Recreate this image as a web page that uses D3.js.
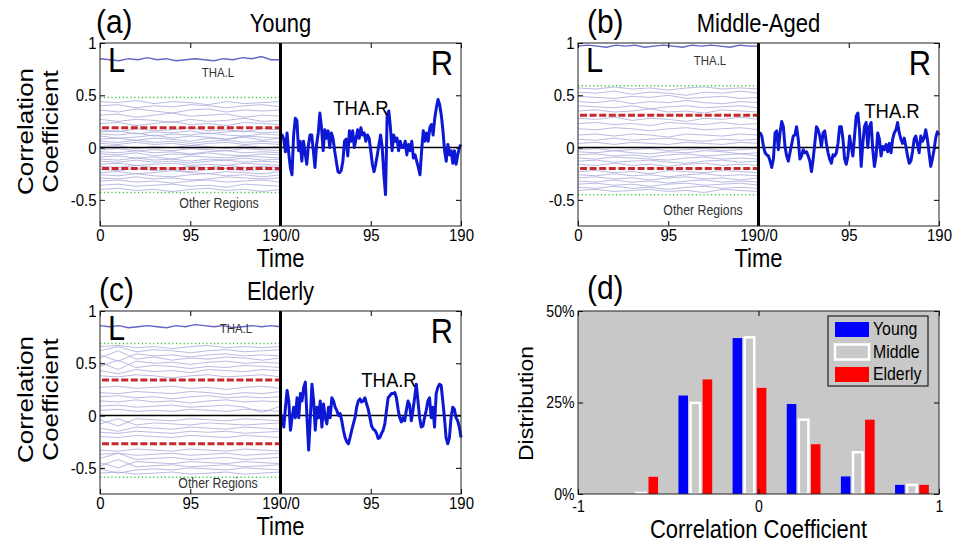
<!DOCTYPE html>
<html>
<head>
<meta charset="utf-8">
<script src="https://cdn.jsdelivr.net/npm/d3@7"></script>
<style>
  body { margin: 0; background: #fff; }
  svg { display: block; }
  text { font-family: "Liberation Sans", Arial, sans-serif; }
</style>
</head>
<body>
<div class="vis"></div>
<script>
// ---- data ----
const timeTicks = [0, 95, 190, 285, 380];
const timeTickLabels = ["0", "95", "190/0", "95", "190"];
const corrTicks = [1, 0.5, 0, -0.5];
const corrTickLabels = ["1", "0.5", "0", "-0.5"];

// THA.R time courses (right half), evenly spaced over 0..190
const youngThaR = [
  0.10,0.12,0.08,-0.04,0.14,-0.05,-0.19,-0.26,0.12,0.28,
  0.26,-0.03,0.06,-0.13,0.06,-0.05,-0.16,0.02,0.12,0.12,
  -0.03,-0.19,0.03,0.14,0.33,0.19,-0.03,0.17,0.09,0.16,
  0.00,0.14,0.09,-0.03,-0.13,-0.23,-0.24,-0.22,-0.13,0.06,
  0.08,-0.08,0.16,0.06,0.16,0.00,0.08,0.17,0.09,0.19,
  0.12,0.14,0.06,0.12,0.09,-0.03,-0.16,-0.23,-0.16,-0.07,
  0.03,0.12,0.00,-0.26,-0.45,0.31,0.35,0.19,-0.03,0.12,
  0.06,0.09,-0.03,0.06,0.00,0.00,0.06,-0.07,0.03,-0.03,
  0.06,-0.10,-0.07,-0.13,-0.19,-0.26,-0.03,0.16,0.06,0.14,
  0.06,0.19,0.22,0.12,0.28,0.38,0.46,0.41,0.31,0.16,
  -0.03,-0.13,0.03,-0.07,-0.03,-0.15,-0.03,-0.16,-0.07,0.00,
  0.03
];
const middleThaR = [
  0.14,0.14,0.11,0.01,-0.05,-0.07,-0.08,-0.13,-0.19,-0.11,
  0.14,0.16,-0.02,0.14,0.25,0.20,0.01,-0.08,-0.13,-0.05,
  0.03,0.11,0.12,0.20,0.08,-0.11,-0.08,-0.02,-0.05,-0.04,
  -0.08,-0.13,-0.23,-0.11,0.04,0.20,0.17,0.11,0.01,0.14,
  0.16,0.04,-0.05,-0.11,-0.15,-0.07,-0.08,-0.05,0.04,0.20,
  0.20,0.08,-0.11,-0.16,-0.08,0.11,0.01,-0.08,0.11,0.30,
  0.33,0.17,-0.18,0.04,0.20,0.24,0.00,0.20,0.24,-0.02,
  -0.18,-0.08,0.14,0.08,-0.08,0.01,-0.02,0.03,-0.04,0.04,
  -0.05,0.08,0.14,0.17,0.24,0.14,0.08,0.04,0.09,0.01,
  -0.08,-0.15,-0.13,-0.04,0.08,0.11,0.03,-0.05,0.11,0.06,
  0.09,0.17,0.08,-0.05,-0.18,-0.11,-0.02,0.09,0.15,0.12
];
const elderlyThaR = [
  0.02,-0.02,-0.11,0.08,0.24,0.14,-0.14,-0.02,0.08,-0.02,
  0.17,-0.02,0.21,0.14,0.27,0.32,-0.02,-0.33,-0.02,0.30,
  0.14,-0.14,0.08,-0.02,0.14,-0.11,0.11,-0.02,-0.08,0.08,
  -0.02,0.17,0.14,0.08,0.05,0.00,0.02,-0.05,-0.14,-0.21,
  -0.25,-0.27,-0.21,-0.14,-0.08,-0.02,0.08,0.14,0.16,0.13,
  0.14,0.17,0.11,0.06,-0.02,-0.10,-0.13,-0.14,-0.17,-0.22,
  -0.21,-0.17,-0.14,-0.08,0.05,0.17,0.19,0.21,0.21,0.22,
  0.17,0.06,-0.02,-0.06,-0.02,-0.05,0.05,0.14,0.10,-0.05,
  0.05,0.17,0.30,0.14,-0.02,-0.11,-0.10,-0.02,0.05,0.14,
  0.17,-0.02,0.08,-0.11,0.21,0.27,0.30,0.29,0.14,-0.02,
  -0.21,-0.27,-0.21,-0.02,0.08,0.06,-0.02,-0.05,-0.11,-0.21
];

// THA.L time courses (left half)
const youngThaL = [0.85,0.84,0.83,0.85,0.84,0.86,0.84,0.85,0.83,0.84,0.85,0.84,0.83,0.85,0.84,0.86,0.85,0.87,0.84,0.84];
const middleThaL = [0.97,0.98,0.97,0.96,0.98,0.97,0.98,0.96,0.97,0.98,0.97,0.96,0.98,0.97,0.98,0.97,0.96,0.98,0.97,0.97];
const elderlyThaL = [0.86,0.85,0.86,0.84,0.85,0.86,0.85,0.84,0.86,0.85,0.87,0.86,0.85,0.86,0.84,0.85,0.86,0.85,0.86,0.85];

// other regions (left half), each sampled at 11 time points
const youngOthers = [
  [0.44,0.43,0.45,0.42,0.44,0.43,0.41,0.44,0.42,0.43,0.44],
  [0.40,0.41,0.38,0.40,0.39,0.41,0.40,0.38,0.40,0.41,0.39],
  [0.36,0.34,0.37,0.35,0.33,0.36,0.37,0.34,0.36,0.35,0.36],
  [0.31,0.32,0.29,0.31,0.33,0.30,0.31,0.32,0.29,0.31,0.30],
  [0.27,0.25,0.27,0.26,0.24,0.27,0.25,0.26,0.28,0.25,0.26],
  [0.23,0.24,0.21,0.23,0.25,0.22,0.23,0.21,0.24,0.23,0.22],
  [0.17,0.15,0.18,0.16,0.17,0.19,0.16,0.17,0.15,0.18,0.17],
  [0.15,0.16,0.13,0.15,0.14,0.16,0.13,0.15,0.16,0.14,0.15],
  [0.13,0.12,0.14,0.11,0.13,0.12,0.14,0.12,0.11,0.13,0.12],
  [0.11,0.09,0.10,0.12,0.09,0.11,0.10,0.08,0.11,0.10,0.09],
  [0.08,0.09,0.07,0.09,0.08,0.06,0.09,0.08,0.10,0.07,0.09],
  [0.06,0.05,0.07,0.05,0.06,0.04,0.06,0.07,0.05,0.06,0.05],
  [0.04,0.03,0.05,0.03,0.04,0.02,0.04,0.05,0.03,0.04,0.03],
  [0.01,0.02,-0.01,0.01,0.00,0.02,0.01,-0.01,0.02,0.00,0.01],
  [-0.02,-0.01,-0.03,-0.02,-0.03,-0.01,-0.02,-0.03,-0.01,-0.02,-0.03],
  [-0.04,-0.05,-0.03,-0.05,-0.04,-0.06,-0.04,-0.03,-0.05,-0.04,-0.05],
  [-0.06,-0.07,-0.05,-0.08,-0.06,-0.07,-0.05,-0.07,-0.08,-0.06,-0.07],
  [-0.09,-0.08,-0.10,-0.09,-0.11,-0.08,-0.09,-0.10,-0.08,-0.09,-0.10],
  [-0.11,-0.12,-0.10,-0.12,-0.11,-0.13,-0.11,-0.12,-0.10,-0.12,-0.11],
  [-0.13,-0.14,-0.12,-0.14,-0.13,-0.15,-0.13,-0.12,-0.14,-0.13,-0.14],
  [-0.16,-0.15,-0.17,-0.16,-0.15,-0.17,-0.16,-0.17,-0.15,-0.16,-0.17],
  [-0.18,-0.19,-0.17,-0.19,-0.20,-0.18,-0.19,-0.17,-0.19,-0.18,-0.19],
  [-0.21,-0.22,-0.20,-0.22,-0.21,-0.23,-0.21,-0.20,-0.22,-0.21,-0.22],
  [-0.24,-0.23,-0.25,-0.24,-0.22,-0.24,-0.25,-0.23,-0.24,-0.25,-0.23],
  [-0.26,-0.27,-0.25,-0.27,-0.28,-0.26,-0.25,-0.27,-0.26,-0.28,-0.26],
  [-0.29,-0.30,-0.28,-0.30,-0.29,-0.31,-0.30,-0.28,-0.29,-0.30,-0.29],
  [-0.32,-0.31,-0.33,-0.32,-0.34,-0.32,-0.31,-0.33,-0.32,-0.31,-0.33],
  [-0.36,-0.35,-0.37,-0.36,-0.35,-0.37,-0.36,-0.38,-0.35,-0.36,-0.37],
  [-0.40,-0.39,-0.41,-0.40,-0.42,-0.40,-0.39,-0.41,-0.40,-0.42,-0.40]
];
const middleOthers = [
  [0.57,0.56,0.58,0.56,0.57,0.55,0.57,0.58,0.56,0.57,0.56],
  [0.53,0.52,0.54,0.51,0.53,0.52,0.50,0.53,0.52,0.54,0.52],
  [0.49,0.48,0.47,0.49,0.48,0.50,0.47,0.48,0.49,0.47,0.48],
  [0.44,0.43,0.45,0.42,0.44,0.43,0.45,0.43,0.42,0.44,0.43],
  [0.40,0.39,0.38,0.40,0.37,0.39,0.40,0.38,0.39,0.40,0.38],
  [0.35,0.36,0.34,0.35,0.37,0.34,0.35,0.33,0.36,0.35,0.34],
  [0.28,0.27,0.29,0.26,0.28,0.27,0.25,0.28,0.27,0.29,0.27],
  [0.23,0.24,0.22,0.23,0.21,0.24,0.23,0.22,0.24,0.22,0.23],
  [0.18,0.17,0.19,0.18,0.16,0.18,0.19,0.17,0.18,0.19,0.17],
  [0.12,0.13,0.11,0.13,0.12,0.10,0.13,0.12,0.11,0.13,0.12],
  [0.08,0.07,0.09,0.07,0.08,0.09,0.07,0.06,0.08,0.07,0.08],
  [0.04,0.05,0.03,0.05,0.04,0.03,0.05,0.04,0.03,0.05,0.04],
  [-0.02,-0.01,-0.03,-0.02,-0.01,-0.03,-0.02,-0.01,-0.03,-0.02,-0.01],
  [-0.04,-0.05,-0.03,-0.05,-0.06,-0.04,-0.05,-0.03,-0.04,-0.06,-0.05],
  [-0.07,-0.06,-0.08,-0.07,-0.09,-0.07,-0.06,-0.08,-0.07,-0.06,-0.08],
  [-0.10,-0.11,-0.09,-0.10,-0.11,-0.12,-0.10,-0.09,-0.11,-0.10,-0.11],
  [-0.13,-0.12,-0.14,-0.13,-0.12,-0.14,-0.15,-0.13,-0.12,-0.14,-0.13],
  [-0.16,-0.17,-0.15,-0.17,-0.16,-0.18,-0.16,-0.15,-0.17,-0.16,-0.17],
  [-0.23,-0.22,-0.24,-0.23,-0.25,-0.22,-0.23,-0.24,-0.22,-0.23,-0.24],
  [-0.26,-0.27,-0.25,-0.27,-0.26,-0.28,-0.26,-0.25,-0.27,-0.26,-0.27],
  [-0.29,-0.28,-0.30,-0.29,-0.31,-0.29,-0.28,-0.30,-0.29,-0.31,-0.29],
  [-0.32,-0.33,-0.31,-0.33,-0.32,-0.34,-0.32,-0.31,-0.33,-0.32,-0.33],
  [-0.35,-0.34,-0.36,-0.35,-0.37,-0.35,-0.34,-0.36,-0.35,-0.34,-0.36],
  [-0.38,-0.39,-0.37,-0.39,-0.38,-0.40,-0.38,-0.37,-0.39,-0.38,-0.39],
  [-0.41,-0.40,-0.42,-0.41,-0.40,-0.42,-0.41,-0.43,-0.40,-0.41,-0.42]
];
const elderlyOthers = [
  [0.66,0.67,0.65,0.66,0.64,0.66,0.67,0.65,0.66,0.65,0.66],
  [0.62,0.66,0.61,0.63,0.62,0.60,0.62,0.63,0.61,0.62,0.63],
  [0.58,0.52,0.59,0.57,0.58,0.56,0.58,0.59,0.57,0.58,0.57],
  [0.55,0.62,0.54,0.56,0.53,0.55,0.54,0.56,0.55,0.53,0.55],
  [0.51,0.44,0.52,0.50,0.51,0.49,0.51,0.52,0.50,0.51,0.50],
  [0.47,0.53,0.46,0.48,0.47,0.45,0.47,0.46,0.48,0.47,0.46],
  [0.43,0.40,0.44,0.42,0.43,0.41,0.44,0.43,0.42,0.44,0.43],
  [0.38,0.37,0.39,0.38,0.36,0.38,0.39,0.37,0.38,0.39,0.37],
  [0.27,0.28,0.26,0.27,0.28,0.26,0.27,0.25,0.27,0.28,0.26],
  [0.22,0.21,0.23,0.22,0.21,0.23,0.22,0.20,0.22,0.21,0.23],
  [0.18,0.19,0.17,0.18,0.16,0.18,0.19,0.17,0.18,0.17,0.18],
  [0.14,0.13,0.15,0.13,0.14,0.12,0.14,0.15,0.13,0.14,0.13],
  [0.09,0.10,0.08,0.09,0.10,0.08,0.09,0.10,0.08,0.03,0.09],
  [0.05,0.06,0.04,0.05,0.04,0.06,0.05,0.04,0.06,0.05,0.04],
  [-0.04,-0.10,-0.03,-0.04,-0.05,-0.03,-0.04,-0.05,-0.03,-0.04,-0.05],
  [-0.08,-0.03,-0.09,-0.07,-0.08,-0.09,-0.07,-0.08,-0.09,-0.08,-0.07],
  [-0.12,-0.15,-0.11,-0.12,-0.13,-0.11,-0.12,-0.13,-0.11,-0.12,-0.13],
  [-0.16,-0.17,-0.15,-0.16,-0.17,-0.15,-0.16,-0.15,-0.17,-0.16,-0.15],
  [-0.20,-0.21,-0.19,-0.20,-0.21,-0.19,-0.20,-0.21,-0.19,-0.20,-0.21],
  [-0.33,-0.34,-0.32,-0.33,-0.34,-0.32,-0.33,-0.34,-0.32,-0.33,-0.34],
  [-0.37,-0.36,-0.38,-0.37,-0.36,-0.38,-0.37,-0.36,-0.38,-0.37,-0.36],
  [-0.41,-0.36,-0.42,-0.41,-0.40,-0.42,-0.41,-0.40,-0.42,-0.41,-0.40],
  [-0.45,-0.50,-0.44,-0.45,-0.46,-0.44,-0.45,-0.46,-0.44,-0.45,-0.46],
  [-0.48,-0.42,-0.49,-0.48,-0.47,-0.49,-0.48,-0.47,-0.49,-0.48,-0.47],
  [-0.51,-0.55,-0.52,-0.51,-0.52,-0.50,-0.51,-0.52,-0.50,-0.51,-0.52],
  [-0.55,-0.54,-0.56,-0.55,-0.54,-0.56,-0.55,-0.54,-0.56,-0.55,-0.54]
];

// threshold levels: green dotted and red dashed
const youngGreen = [0.48, -0.43], youngRed = [0.19, -0.20];
const middleGreen = [0.59, -0.45], middleRed = [0.31, -0.20];
const elderlyGreen = [0.69, -0.59], elderlyRed = [0.34, -0.27];

// (d) histogram
const histCenters = [-0.65, -0.35, -0.05, 0.25, 0.55, 0.85];
const histYoung = [0, 26.9, 42.6, 24.6, 4.8, 2.5];
const histMiddle = [0.3, 24.9, 42.8, 20.3, 11.4, 2.5];
const histElderly = [4.7, 31.3, 29.0, 13.6, 20.3, 2.5];
const histGroups = ["Young", "Middle", "Elderly"];
const distTicks = [0, 25, 50];
const distTickLabels = ["0%", "25%", "50%"];
const coefTicks = [-1, 0, 1];

// ---- drawing ----
const SX = 0.88;   // figure text looks horizontally squeezed
const W = 361, H = 183;

const svg = d3.select('.vis').append('svg')
  .attr('width', 957).attr('height', 542);

function label(g, x, y, s, size, anchor, fill) {
  return g.append("text")
    .attr("transform", `translate(${x},${y}) scale(${SX},1)`)
    .attr("text-anchor", anchor || "start")
    .style("font-size", size + "px")
    .attr("fill", fill || "#000")
    .text(s);
}
function vlabel(g, x, y, s, size) {
  return g.append("text")
    .attr("transform", `translate(${x},${y}) rotate(-90) scale(1,${SX})`)
    .attr("text-anchor", "middle")
    .style("font-size", size + "px")
    .text(s);
}

function frame(g, x, y, xt, xl, yt, yl, fs, xpad) {
  const squeeze = sel => sel.selectAll("text").attr("transform", `scale(${SX},1)`).style("font-size", fs + "px")
    .style("font-family", '"Liberation Sans", Arial, sans-serif').attr("fill", "#000");
  const clean = sel => { sel.select(".domain").remove(); sel.selectAll("line").attr("stroke", "#000"); };
  g.append("g").attr("transform", `translate(0,${H})`)
    .call(d3.axisBottom(x).tickValues(xt).tickFormat((d, i) => xl[i]).tickSizeInner(-5).tickSizeOuter(0).tickPadding(xpad))
    .call(clean).call(squeeze);
  g.append("g")
    .call(d3.axisTop(x).tickValues(xt).tickFormat("").tickSizeInner(-5).tickSizeOuter(0)).call(clean);
  g.append("g")
    .call(d3.axisLeft(y).tickValues(yt).tickFormat((d, i) => yl[i]).tickSizeInner(-5).tickSizeOuter(0).tickPadding(4))
    .call(clean).call(squeeze);
  g.append("g").attr("transform", `translate(${W},0)`)
    .call(d3.axisRight(y).tickValues(yt).tickFormat("").tickSizeInner(-5).tickSizeOuter(0)).call(clean);
  g.append("rect").attr("width", W).attr("height", H)
    .attr("fill", "none").attr("stroke", "#222").attr("stroke-width", 1);
}

const panels = [
  { tag: "(a)", title: "Young", left: 100, top: 43, tagDx: -4, ylab: true,
    thaR: youngThaR, thaL: youngThaL, others: youngOthers, green: youngGreen, red: youngRed,
    thaLPos: [118, 34], otherPos: [119, 165], thaRPos: [261, 72] },
  { tag: "(b)", title: "Middle-Aged", left: 578, top: 43, tagDx: 9, ylab: false,
    thaR: middleThaR, thaL: middleThaL, others: middleOthers, green: middleGreen, red: middleRed,
    thaLPos: [132, 22], otherPos: [125, 172], thaRPos: [314, 75] },
  { tag: "(c)", title: "Elderly", left: 100, top: 311, tagDx: -1, ylab: true,
    thaR: elderlyThaR, thaL: elderlyThaL, others: elderlyOthers, green: elderlyGreen, red: elderlyRed,
    thaLPos: [136, 22], otherPos: [118, 177], thaRPos: [289, 76] }
];

panels.forEach(p => {
  const g = svg.append("g").attr("transform", `translate(${p.left},${p.top})`);
  const x = d3.scaleLinear().domain([0, 380]).range([0, W]);
  const y = d3.scaleLinear().domain([-0.75, 1]).range([H, 0]);

  const leftLine = d3.line().x((d, i, a) => x(i * 190 / (a.length - 1))).y(d => y(d));
  const rightLine = d3.line().x((d, i, a) => x(190 + i * 190 / (a.length - 1))).y(d => y(d));

  g.selectAll(".other").data(p.others).enter().append("path")
    .attr("d", leftLine).attr("fill", "none")
    .attr("stroke", "#a9a9dc").attr("stroke-width", 0.8);

  g.append("path").attr("d", leftLine(p.thaL)).attr("fill", "none")
    .attr("stroke", "#6363c8").attr("stroke-width", 1.4);

  g.selectAll(".green").data(p.green).enter().append("line")
    .attr("x1", x(0)).attr("x2", x(190)).attr("y1", d => y(d)).attr("y2", d => y(d))
    .attr("stroke", "#3cc43c").attr("stroke-width", 1.5).attr("stroke-dasharray", "1.2,2.6");

  g.selectAll(".red").data(p.red).enter().append("line")
    .attr("x1", x(0) + 2).attr("x2", x(190)).attr("y1", d => y(d)).attr("y2", d => y(d))
    .attr("stroke", "#c8282e").attr("stroke-width", 3).attr("stroke-dasharray", "7,2.6");

  g.append("line").attr("x1", x(0)).attr("x2", x(380)).attr("y1", y(0)).attr("y2", y(0))
    .attr("stroke", "#000").attr("stroke-width", 1.5);

  g.append("path").attr("d", rightLine(p.thaR)).attr("fill", "none")
    .attr("stroke", "#0c18d4").attr("stroke-width", 3).attr("stroke-linejoin", "round");

  g.append("line").attr("x1", x(190)).attr("x2", x(190)).attr("y1", 0).attr("y2", H)
    .attr("stroke", "#000").attr("stroke-width", 3);

  frame(g, x, y, timeTicks, timeTickLabels, corrTicks, corrTickLabels, 17, 3);

  label(g, 8, 29, "L", 35);
  label(g, W - 8, 32, "R", 35, "end");
  label(g, p.thaLPos[0], p.thaLPos[1], "THA.L", 13, "middle", "#333");
  label(g, p.otherPos[0], p.otherPos[1], "Other Regions", 14, "middle", "#333");
  label(g, p.thaRPos[0], p.thaRPos[1], "THA.R", 21, "middle");

  label(g, p.tagDx, -10, p.tag, 34);
  label(g, W / 2, -11, p.title, 25, "middle");
  label(g, W / 2, H + 41, "Time", 25, "middle");
  if (p.ylab) {
    vlabel(g, -67, H / 2 - 3, "Correlation", 26);
    vlabel(g, -42, H / 2 - 3, "Coefficient", 26);
  }
});

// ---- (d) histogram ----
(function () {
  const g = svg.append("g").attr("transform", "translate(578,311)");
  const x = d3.scaleLinear().domain([-1, 1]).range([0, W]);
  const y = d3.scaleLinear().domain([0, 50]).range([H, 0]);
  const bg = "#c8c8c8";
  g.append("rect").attr("width", W).attr("height", H).attr("fill", bg);

  const offs = [-0.067, 0, 0.067];
  const bw = x(0.053) - x(0);
  const series = [histYoung, histMiddle, histElderly];
  const fills = ["#0000ff", bg, "#ff0000"];
  series.forEach((vals, k) => {
    g.selectAll(".bar" + k).data(vals).enter().append("rect")
      .attr("x", (d, i) => x(histCenters[i] + offs[k]) - bw / 2)
      .attr("y", d => y(d))
      .attr("width", bw)
      .attr("height", d => y(0) - y(d))
      .attr("fill", fills[k])
      .attr("stroke", k === 1 ? "#fff" : "none")
      .attr("stroke-width", k === 1 ? 2.5 : 0);
  });

  frame(g, x, y, coefTicks, coefTicks.map(String), distTicks, distTickLabels, 16, 7);

  // legend
  const lg = g.append("g").attr("transform", "translate(250,5)");
  lg.append("rect").attr("width", 100).attr("height", 70).attr("fill", bg).attr("stroke", "#000");
  histGroups.forEach((name, k) => {
    lg.append("rect").attr("x", 7).attr("y", 6 + k * 22.5).attr("width", 34).attr("height", 15)
      .attr("fill", fills[k]).attr("stroke", k === 1 ? "#fff" : "none").attr("stroke-width", k === 1 ? 2.5 : 0);
    label(lg, 45, 19 + k * 22.5, name, 18);
  });

  label(g, 9, -12, "(d)", 34);
  label(g, W / 2, H + 44, "Correlation Coefficient", 25, "middle");
  vlabel(g, -45, H / 2 + 1, "Distribution", 23);
})();
</script>
</body>
</html>
